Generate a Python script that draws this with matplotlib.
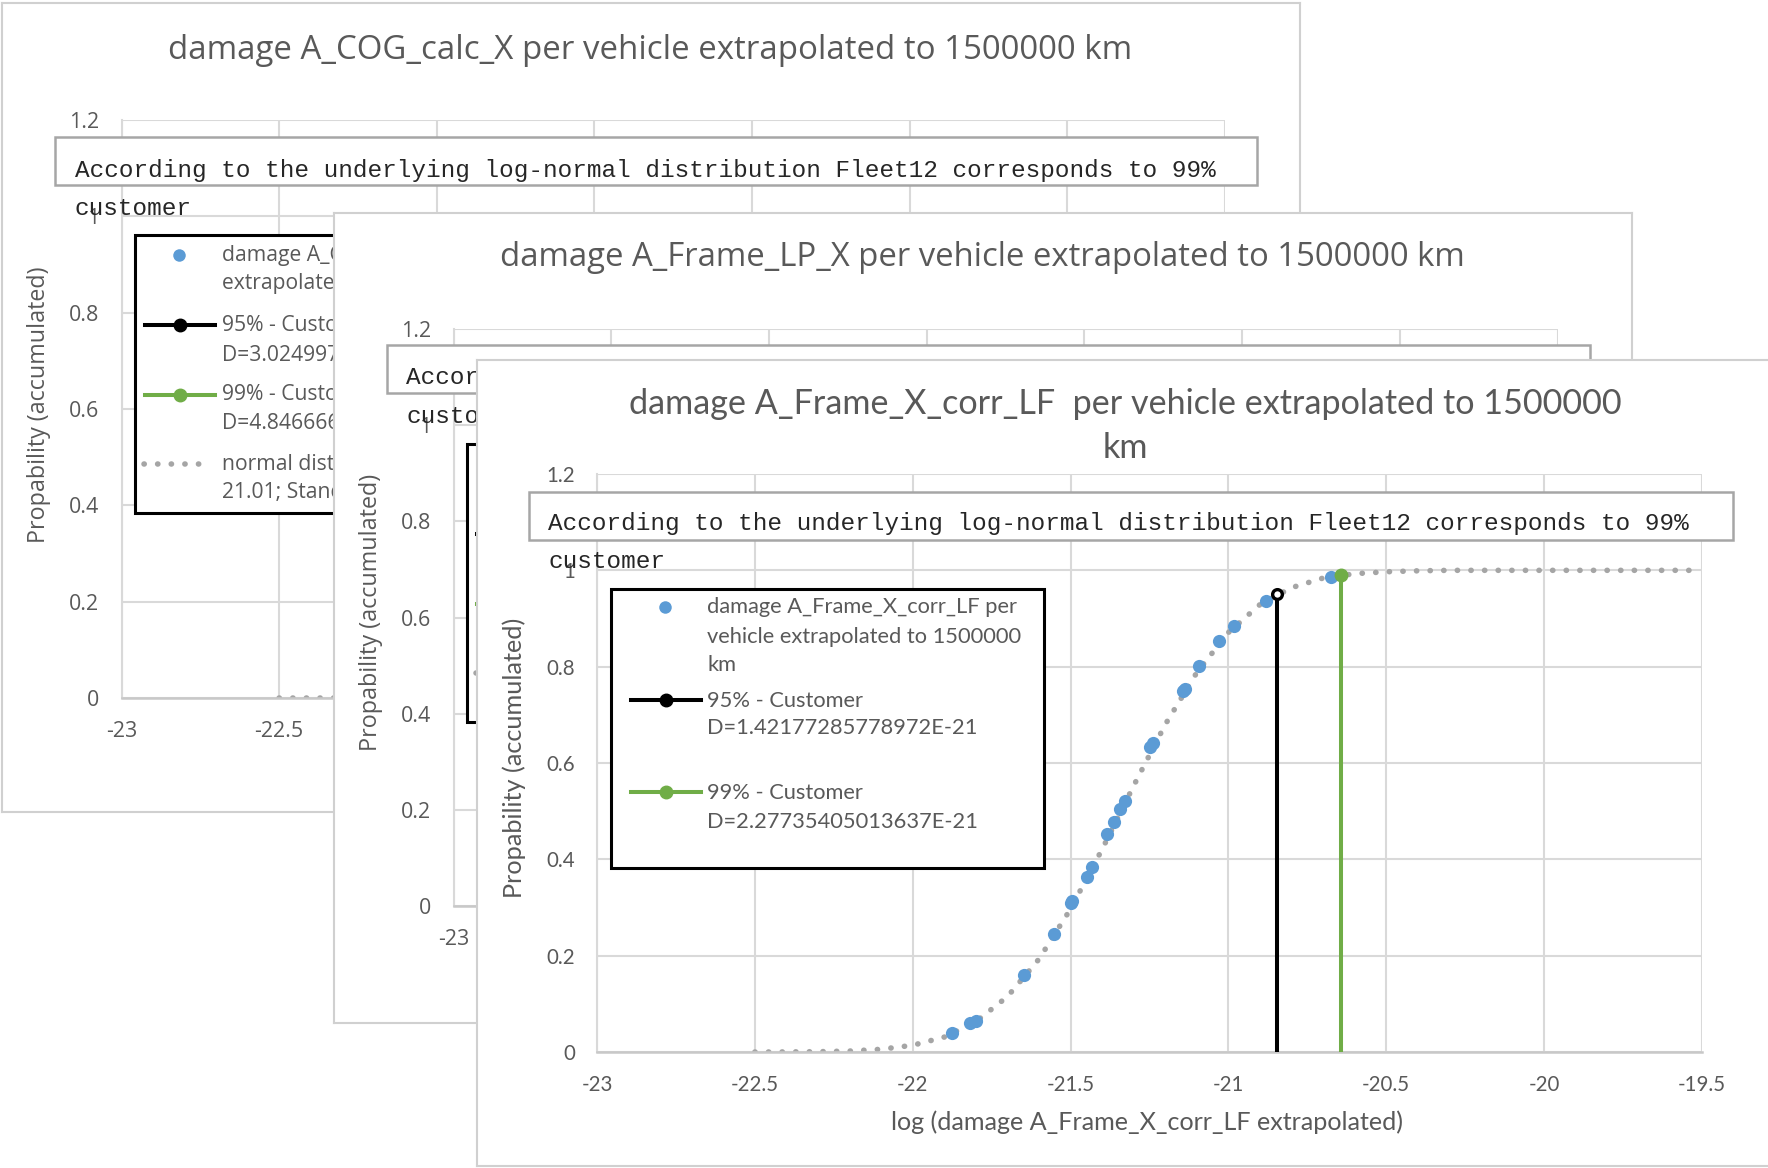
import matplotlib
matplotlib.use("Agg")
import numpy as np
import matplotlib.pyplot as plt
from matplotlib.patches import Rectangle
from matplotlib.lines import Line2D
from matplotlib.transforms import Affine2D

# ticks shared by all three charts
x_ticks = [-23, -22.5, -22, -21.5, -21, -20.5, -20, -19.5]
x_tick_labels = ["-23", "-22.5", "-22", "-21.5", "-21", "-20.5", "-20", "-19.5"]
y_ticks = [0, 0.2, 0.4, 0.6, 0.8, 1, 1.2]
y_tick_labels = ["0", "0.2", "0.4", "0.6", "0.8", "1", "1.2"]

# dotted normal distribution curves
curve_x = [-22.5, -22.4, -22.3, -22.2, -22.1, -22.0, -21.9, -21.8, -21.7, -21.6,
           -21.5, -21.4, -21.3, -21.2, -21.1, -21.0, -20.9, -20.8, -20.7, -20.6,
           -20.5, -20.4, -20.3, -20.0, -19.5]
cog_curve_y = [0, 0, 0, 0, 0.0001, 0.0005, 0.0015, 0.0043, 0.0107, 0.0245,
               0.051, 0.097, 0.166, 0.264, 0.382, 0.513, 0.643, 0.758, 0.849, 0.914,
               0.955, 0.979, 0.991, 0.9996, 1.0]
corr_curve_y = [0, 0.0002, 0.0007, 0.002, 0.0057, 0.014, 0.031, 0.063, 0.115, 0.193,
                0.297, 0.421, 0.553, 0.680, 0.788, 0.871, 0.929, 0.964, 0.984, 0.993,
                0.997, 0.999, 1.0, 1.0, 1.0]

# vehicles of A_Frame_X_corr_LF (log damage, accumulated probability)
corr_x = [-21.875, -21.819, -21.801, -21.648, -21.551, -21.500, -21.494, -21.449,
          -21.433, -21.384, -21.364, -21.345, -21.329, -21.247, -21.238, -21.143,
          -21.139, -21.093, -21.031, -20.982, -20.882, -20.674]
corr_y = [0.040, 0.060, 0.064, 0.160, 0.246, 0.309, 0.314, 0.364,
          0.385, 0.452, 0.478, 0.504, 0.522, 0.634, 0.641, 0.750,
          0.754, 0.801, 0.853, 0.884, 0.937, 0.987]

cog_d95, cog_d99 = 3.024997e-21, 4.846666e-21
corr_d95, corr_d99 = 1.42177285778972e-21, 2.27735405013637e-21

NOTE = "According to the underlying log-normal distribution Fleet12 corresponds to 99%"

W, H = 1768, 1168
fig = plt.figure(figsize=(W / 100, H / 100), dpi=100)
fig.patch.set_facecolor("white")
renderer = fig.canvas.get_renderer()
# pixel coords, origin top left
px = Affine2D().scale(1 / W, -1 / H).translate(0, 1) + fig.transFigure

GRAY = "#595959"
GRID = "#d9d9d9"
BLUE = "#5b9bd5"
GREEN = "#70ad47"
DOT = "#a5a5a5"
DOTS = (0, (0.05, 2.4))


def rect(x0, y0, x1, y1):
    return [x0 / W, 1 - y1 / H, (x1 - x0) / W, (y1 - y0) / H]


def fit_size(s, family, width):
    t = fig.text(0, 0, s, family=family, fontsize=10)
    w = t.get_window_extent(renderer).width
    t.remove()
    return 10 * width / w


def make_chart(frame, plot, font, tick_size):
    fr = fig.add_axes(rect(*frame))
    fr.set_xticks([])
    fr.set_yticks([])
    for sp in fr.spines.values():
        sp.set_color("#d0d0d0")
        sp.set_linewidth(1.5)
    ax = fig.add_axes(rect(*plot))
    ax.set_facecolor("none")
    ax.set_xlim(-23, -19.5)
    ax.set_ylim(0, 1.2)
    ax.set_xticks(x_ticks, x_tick_labels)
    ax.set_yticks(y_ticks, y_tick_labels)
    ax.tick_params(length=0, labelsize=tick_size, labelcolor=GRAY)
    ax.tick_params(axis="x", pad=16.5)
    ax.tick_params(axis="y", pad=16)
    for lab in ax.get_xticklabels() + ax.get_yticklabels():
        lab.set_fontfamily(font)
    ax.grid(True, color=GRID, lw=1.5)
    ax.set_axisbelow(True)
    ax.spines["top"].set_visible(False)
    ax.spines["right"].set_visible(False)
    ax.spines["left"].set_color(GRID)
    ax.spines["left"].set_linewidth(1.5)
    ax.spines["bottom"].set_color("#c8c8c8")
    ax.spines["bottom"].set_linewidth(1.8)
    return ax


def note(ax, box, tx, base, size):
    x0, y0, x1, y1 = box
    ax.add_patch(Rectangle((x0, y0), x1 - x0, y1 - y0, transform=px, fc="white",
                           ec="#a6a6a6", lw=1.8, clip_on=False, zorder=5))
    ax.text(tx, base, NOTE, transform=px, family="Liberation Mono", fontsize=size,
            color="#262626", va="baseline", zorder=6)
    ax.text(tx, base + 38.5, "customer", transform=px, family="Liberation Mono",
            fontsize=size, color="#262626", va="baseline", zorder=6)


def legend(ax, box, handles, texts, font, size):
    x0, y0, x1, y1 = box
    ax.add_patch(Rectangle((x0, y0), x1 - x0, y1 - y0, transform=px, fc="white",
                           ec="black", lw=2.2, clip_on=False, zorder=7))
    for kind, hx0, hx1, hy in handles:
        if kind == "dot":
            ln = Line2D([(hx0 + hx1) / 2], [hy], ls="none", marker="o", ms=9,
                        mfc=BLUE, mec="none")
        elif kind == "curve":
            ln = Line2D([hx0, hx1], [hy, hy], color=DOT, lw=4, ls=DOTS,
                        dash_capstyle="round")
        else:
            c = "black" if kind == "p95" else GREEN
            ln = Line2D([hx0, (hx0 + hx1) / 2, hx1], [hy, hy, hy], color=c, lw=2.9,
                        marker="o", ms=9, mfc=c, mec=c, markevery=[1])
        ln.set_transform(px)
        ln.set_clip_on(False)
        ln.set_zorder(8)
        ax.add_artist(ln)
    for tx, ty, s in texts:
        ax.text(tx, ty, s, transform=px, family=font, fontsize=size, color=GRAY,
                va="center", ha="left", zorder=8)


def back_legend(ax, lx, ly, lw_box, lines, size):
    handles = [("dot", lx + 30, lx + 58, ly + 19.6),
               ("p95", lx + 9.7, lx + 79.7, ly + 89.9),
               ("p99", lx + 9.7, lx + 79.7, ly + 159.5),
               ("curve", lx + 8.5, lx + 76.7, ly + 228.6)]
    offs = [19.6, 48.6, 89.9, 120.2, 159.5, 188.2, 228.6, 257.3]
    texts = [(lx + 86.6, ly + o, s) for o, s in zip(offs, lines)]
    legend(ax, (lx, ly, lx + lw_box, ly + 277.6), handles, texts, "Open Sans", size)


note_size = fit_size(NOTE, "Liberation Mono", 1146.5)
back_tick = fit_size("-22.5", "Open Sans", 49)
back_leg = fit_size("damage A_", "Open Sans", 108)
front_tick = fit_size("-21.5", "Lato", 48.5)
front_leg = fit_size("vehicle extrapolated to 1500000", "Lato", 315.7)

# ---------------- chart 1 (back): A_COG_calc_X ----------------
ax1 = make_chart((2, 3, 1300, 812), (121.5, 120, 1224.7, 698), "Open Sans", back_tick)
t1 = "damage A_COG_calc_X per vehicle extrapolated to 1500000 km"
ax1.text(650, 50.5, t1, transform=px, family="Open Sans", color=GRAY, ha="center",
         va="center", fontsize=fit_size(t1, "Open Sans", 962))
ylab = "Propability (accumulated)"
ax1.text(39.3, 405, ylab, transform=px, family="Open Sans", color=GRAY, rotation=90,
         ha="center", va="center", fontsize=fit_size(ylab, "Open Sans", 277))
ax1.plot(curve_x, cog_curve_y, color=DOT, lw=4, ls=DOTS, dash_capstyle="round")
ax1.plot([np.log10(cog_d95)] * 2, [0, 0.95], color="black", lw=2.9)
ax1.plot([np.log10(cog_d99)] * 2, [0, 0.99], color=GREEN, lw=2.9)
note(ax1, (55, 137, 1257, 184.6), 74.6, 176.8, note_size)
back_legend(ax1, 135.3, 235.4, 520,
            ["damage A_COG_calc_X per vehicle", "extrapolated to 1500000 km",
             "95% - Customer", "D=3.024997E-21",
             "99% - Customer", "D=4.846666E-21",
             "normal distribution: Mean=-", "21.01; Standard deviation=0.3"], back_leg)

# ---------------- chart 2 (middle): A_Frame_LP_X ----------------
ax2 = make_chart((334, 213.4, 1632, 1023), (453.6, 329, 1557.5, 906), "Open Sans", back_tick)
t2 = "damage A_Frame_LP_X per vehicle extrapolated to 1500000 km"
ax2.text(982, 258, t2, transform=px, family="Open Sans", color=GRAY, ha="center",
         va="center", fontsize=fit_size(t2, "Open Sans", 968))
ax2.text(371.3, 612.7, ylab, transform=px, family="Open Sans", color=GRAY, rotation=90,
         ha="center", va="center", fontsize=fit_size(ylab, "Open Sans", 278))
note(ax2, (386.6, 345.3, 1590, 393.5), 406.5, 384.3, note_size)
back_legend(ax2, 467, 444, 520,
            ["damage A_Frame_LP_X per vehicle", "extrapolated to 1500000 km",
             "95% - Customer", "D=", "99% - Customer", "D=",
             "normal distribution: Mean=", "Standard deviation="], back_leg)

# ---------------- chart 3 (front): A_Frame_X_corr_LF ----------------
ax3 = make_chart((477, 359.5, 1800, 1166), (597, 474, 1702, 1052), "Lato", front_tick)
t3 = "damage A_Frame_X_corr_LF  per vehicle extrapolated to 1500000"
ax3.text(1125, 404, t3, transform=px, family="Lato", color=GRAY, ha="center",
         va="center", fontsize=fit_size(t3, "Lato", 992))
ax3.text(1125, 447.7, "km", transform=px, family="Lato", color=GRAY, ha="center",
         va="center", fontsize=fit_size(t3, "Lato", 992))
ax3.text(514, 758, ylab, transform=px, family="Lato", color=GRAY, rotation=90,
         ha="center", va="center", fontsize=fit_size(ylab, "Lato", 281))
xlab = "log (damage A_Frame_X_corr_LF extrapolated)"
ax3.text(1147, 1122, xlab, transform=px, family="Lato", color=GRAY, ha="center",
         va="center", fontsize=fit_size(xlab, "Lato", 512))

ax3.plot(curve_x, corr_curve_y, color=DOT, lw=4, ls=DOTS, dash_capstyle="round", zorder=2)
ax3.plot(corr_x, corr_y, ls="none", marker="o", ms=9.5, mfc=BLUE, mec="none", zorder=3)
ax3.plot([np.log10(corr_d95)] * 2, [0, 0.95], color="black", lw=2.9, marker="o",
         ms=7, mfc="white", mec="black", mew=2.4, markevery=[1], zorder=4)
ax3.plot([np.log10(corr_d99)] * 2, [0, 0.99], color=GREEN, lw=2.9, marker="o",
         ms=9, mfc=GREEN, mec=GREEN, markevery=[1], zorder=4)

note(ax3, (529.3, 491.7, 1732.6, 540), 548.5, 530, note_size)
lx, ly = 610.5, 589.3
legend(ax3, (lx, ly, 1044, 868.3),
       [("dot", lx + 40, lx + 69.4, ly + 18),
        ("p95", lx + 20.2, lx + 90.3, ly + 110.7),
        ("p99", lx + 20.2, lx + 90.3, ly + 203)],
       [(lx + 96.8, ly + 18, "damage A_Frame_X_corr_LF per"),
        (lx + 96.8, ly + 47.4, "vehicle extrapolated to 1500000"),
        (lx + 96.8, ly + 75.7, "km"),
        (lx + 96.8, ly + 111.4, "95% - Customer"),
        (lx + 96.8, ly + 139, "D=1.42177285778972E-21"),
        (lx + 96.8, ly + 203.4, "99% - Customer"),
        (lx + 96.8, ly + 232.4, "D=2.27735405013637E-21")],
       "Lato", front_leg)

fig.savefig("out.png", dpi=100)
